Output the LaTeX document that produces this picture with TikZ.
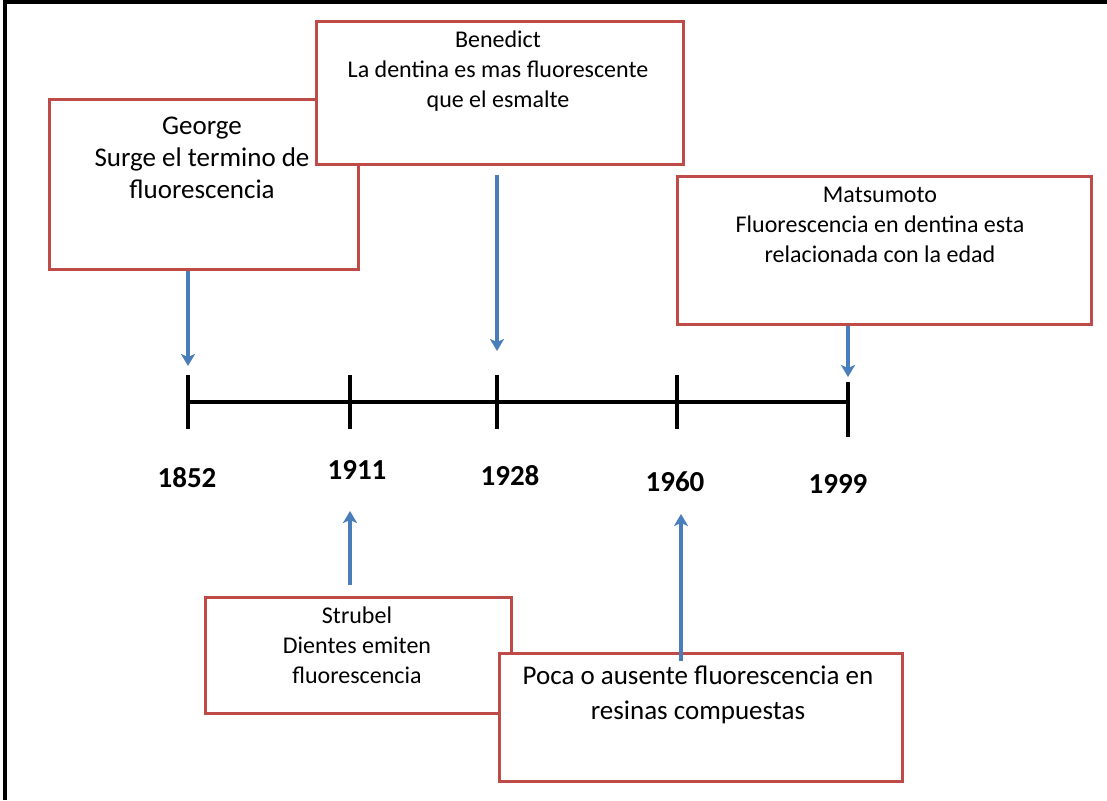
\documentclass[tikz,border=0pt]{standalone}
\usepackage{fontspec}
\setmainfont{Carlito}
\usetikzlibrary{positioning,arrows.meta}
\definecolor{boxred}{HTML}{BE4B48}
\definecolor{arrowblue}{HTML}{4A7EBB}

\begin{document}
\begin{tikzpicture}[x=1pt,y=-1pt,
  card/.style={draw=boxred,line width=3.3pt,fill=white,anchor=north west,inner sep=0pt},
  note/.style={align=center,inner sep=0pt,font=\fontsize{24}{30}\selectfont},
  yr/.style={font=\fontsize{29}{34}\selectfont\bfseries},
  link/.style={draw=arrowblue,line width=3.2pt,-{Stealth[length=12pt,width=14pt,inset=3pt]}},
  tick/.style={line width=3.2pt}]
\useasboundingbox (0,0) rectangle (1107,800);
% frame
\draw[line width=3.5pt] (5,800) -- (5,2) -- (1107,2);

% timeline
\coordinate (t1852) at (188,402);
\coordinate (t1911) at (350,402);
\coordinate (t1928) at (497,402);
\coordinate (t1960) at (677,402);
\coordinate (t1999) at (848,402);
\draw[line width=4pt] (t1852) -- (t1999);
\foreach \t in {t1852,t1911,t1928,t1960}
  \draw[tick] (\t) ++(0,-27) -- ++(0,54);
\draw[tick] (t1999) ++(0,-20) -- ++(0,55);

\node[yr] (y1852) at (187,478) {1852};
\node[yr] (y1911) at (357,470) {1911};
\node[yr] (y1928) at (510,476) {1928};
\node[yr] (y1960) at (675,482) {1960};
\node[yr] (y1999) at (838,484) {1999};

% boxes above
\node[card,minimum width=309pt,minimum height=170pt] (george) at (48,98) {};
\node[note,font=\fontsize{27}{32}\selectfont] (georgetxt) at (202,158) {George\\Surge el termino de\\fluorescencia};
\node[card,minimum width=367pt,minimum height=143pt] (bened) at (315,20) {};
\node[note] (benedtxt) at (498,71) {Benedict\\La dentina es mas fluorescente\\que el esmalte};
\node[card,minimum width=414pt,minimum height=148pt] (matsu) at (676,175) {};
\node[note] (matsutxt) at (880,225) {Matsumoto\\Fluorescencia en dentina esta\\relacionada con la edad};

% boxes below
\node[card,minimum width=306pt,minimum height=116pt] (strub) at (204,596) {};
\node[note] (strubtxt) at (357,645) {Strubel\\Dientes emiten\\fluorescencia};
\node[card,minimum width=403pt,minimum height=128pt] (poca) at (498,652) {};
\node[note,font=\fontsize{27}{35}\selectfont] (pocatxt) at (698,695) {Poca o ausente fluorescencia en\\resinas compuestas};

% arrows
\coordinate (g1852) at (188,366);
\coordinate (b1928) at (497,351);
\coordinate (m1999) at (848,377);
\coordinate (s1911) at (350,511);
\coordinate (p1960) at (681,514);
\draw[link] (george.south -| g1852) -- (g1852);
\draw[link,shorten <=9pt] (bened.south -| b1928) -- (b1928);
\draw[link] (matsu.south -| m1999) -- (m1999);
\draw[link,shorten <=11pt] (strub.north -| s1911) -- (s1911);
\draw[link,shorten <=-9pt] (poca.north -| p1960) -- (p1960);
\end{tikzpicture}
\end{document}
